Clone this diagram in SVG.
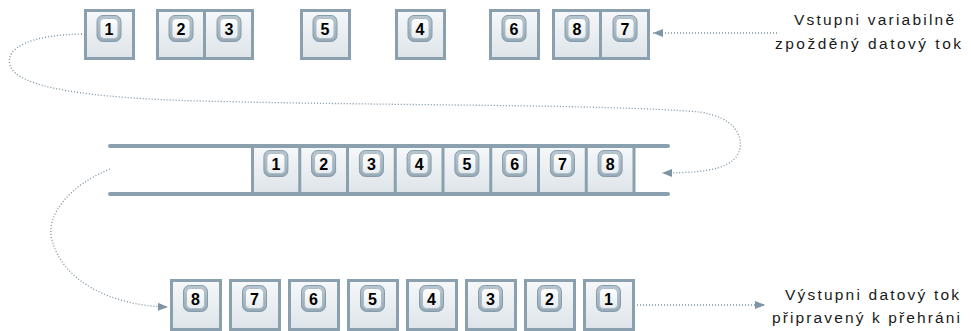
<svg xmlns="http://www.w3.org/2000/svg" xmlns:xlink="http://www.w3.org/1999/xlink" width="971" height="331" viewBox="0 0 971 331">
<style>
.box{fill:url(#boxg);stroke:#8aa0ae;stroke-width:3}
.num{font-family:"Liberation Sans",Arial,sans-serif;font-weight:bold;font-size:16px;fill:#000;text-anchor:middle}
.lbl{font-family:"Liberation Sans",Arial,sans-serif;font-size:15.5px;fill:#1a1a1a;text-anchor:middle}
.dot{fill:none;stroke:#7890a0;stroke-width:1.3;stroke-dasharray:1 2}
.bar{stroke:#8aa0ae;stroke-width:4;stroke-linecap:round}
.sep{stroke:#8aa0ae;stroke-width:3}
</style>
<defs>
<linearGradient id="boxg" x1="0" y1="0" x2="0" y2="1">
<stop offset="0" stop-color="#f6f8fa"/><stop offset="1" stop-color="#dde4e9"/>
</linearGradient>
<linearGradient id="badgeo" x1="0" y1="0" x2="0" y2="1">
<stop offset="0" stop-color="#b9c7d0"/><stop offset="1" stop-color="#95a9b6"/>
</linearGradient>
<linearGradient id="badgei" x1="0" y1="0" x2="0" y2="1">
<stop offset="0" stop-color="#ffffff"/><stop offset="1" stop-color="#e6ebef"/>
</linearGradient>
<g id="badge">
<rect x="0.5" y="0.5" width="24" height="26" rx="6" fill="url(#badgeo)" stroke="#869cab"/>
<rect x="3.5" y="3.5" width="18" height="20" rx="4" fill="url(#badgei)" stroke="#aebcc6"/>
</g>
<marker id="ah" viewBox="0 0 10 8" refX="10" refY="4" markerWidth="10" markerHeight="8" markerUnits="userSpaceOnUse" orient="auto">
<path d="M0,0 L10,4 L0,8 Z" fill="#7d95a5"/>
</marker>
</defs>

<g id="connectors">
<path class="dot" d="M82,34 C30,35 5,48 10,65 C16,88 90,98 200,101 C400,106 600,104 700,112 C735,118 742,135 740,148 C736,168 710,173 662,173" marker-end="url(#ah)"/>
<path class="dot" d="M110,169 C70,185 45,215 52,240 C62,280 110,306 168,307" marker-end="url(#ah)"/>
<path class="dot" d="M777,33 L653,33" marker-end="url(#ah)"/>
<path class="dot" d="M637,305 L765,305" marker-end="url(#ah)"/>
</g>

<g id="input-stream">
<g id="in-1"><rect class="box" x="85.5" y="10.5" width="48" height="48"/><use xlink:href="#badge" x="96.5" y="15"/><text class="num" x="109" y="34.5">1</text></g>
<g id="in-2"><rect class="box" x="157.5" y="10.5" width="47" height="48"/><use xlink:href="#badge" x="168.5" y="15"/><text class="num" x="181" y="34.5">2</text></g>
<g id="in-3"><rect class="box" x="204.5" y="10.5" width="48" height="48"/><use xlink:href="#badge" x="216.5" y="15"/><text class="num" x="229" y="34.5">3</text></g>
<g id="in-5"><rect class="box" x="301.5" y="10.5" width="48" height="48"/><use xlink:href="#badge" x="312.5" y="15"/><text class="num" x="325" y="34.5">5</text></g>
<g id="in-4"><rect class="box" x="396.5" y="10.5" width="48" height="48"/><use xlink:href="#badge" x="407.5" y="15"/><text class="num" x="420" y="34.5">4</text></g>
<g id="in-6"><rect class="box" x="490.5" y="10.5" width="48" height="48"/><use xlink:href="#badge" x="501.5" y="15"/><text class="num" x="514" y="34.5">6</text></g>
<g id="in-8"><rect class="box" x="553.5" y="10.5" width="47" height="48"/><use xlink:href="#badge" x="564.5" y="15"/><text class="num" x="577" y="34.5">8</text></g>
<g id="in-7"><rect class="box" x="600.5" y="10.5" width="48" height="48"/><use xlink:href="#badge" x="612.5" y="15"/><text class="num" x="625" y="34.5">7</text></g>
</g>

<g id="buffer">
<rect x="252" y="147" width="382" height="46" fill="url(#boxg)"/>
<line class="bar" x1="110" y1="146" x2="668" y2="146"/>
<line class="bar" x1="110" y1="194" x2="668" y2="194"/>
<line class="sep" x1="252.5" y1="146" x2="252.5" y2="194"/>
<line class="sep" x1="299.75" y1="146" x2="299.75" y2="194"/>
<line class="sep" x1="347.5" y1="146" x2="347.5" y2="194"/>
<line class="sep" x1="395.25" y1="146" x2="395.25" y2="194"/>
<line class="sep" x1="443" y1="146" x2="443" y2="194"/>
<line class="sep" x1="490.75" y1="146" x2="490.75" y2="194"/>
<line class="sep" x1="538.5" y1="146" x2="538.5" y2="194"/>
<line class="sep" x1="586.25" y1="146" x2="586.25" y2="194"/>
<line class="sep" x1="634" y1="146" x2="634" y2="194"/>
<g id="buf-1"><use xlink:href="#badge" x="263.4" y="150"/><text class="num" x="275.9" y="169.5">1</text></g>
<g id="buf-2"><use xlink:href="#badge" x="311.1" y="150"/><text class="num" x="323.6" y="169.5">2</text></g>
<g id="buf-3"><use xlink:href="#badge" x="358.9" y="150"/><text class="num" x="371.4" y="169.5">3</text></g>
<g id="buf-4"><use xlink:href="#badge" x="406.6" y="150"/><text class="num" x="419.1" y="169.5">4</text></g>
<g id="buf-5"><use xlink:href="#badge" x="454.4" y="150"/><text class="num" x="466.9" y="169.5">5</text></g>
<g id="buf-6"><use xlink:href="#badge" x="502.1" y="150"/><text class="num" x="514.6" y="169.5">6</text></g>
<g id="buf-7"><use xlink:href="#badge" x="549.9" y="150"/><text class="num" x="562.4" y="169.5">7</text></g>
<g id="buf-8"><use xlink:href="#badge" x="597.6" y="150"/><text class="num" x="610.1" y="169.5">8</text></g>
</g>

<g id="output-stream">
<g id="out-8"><rect class="box" x="171.5" y="280.5" width="49" height="49"/><use xlink:href="#badge" x="183" y="285"/><text class="num" x="195.5" y="304.5">8</text></g>
<g id="out-7"><rect class="box" x="230.5" y="280.5" width="49" height="49"/><use xlink:href="#badge" x="242" y="285"/><text class="num" x="254.5" y="304.5">7</text></g>
<g id="out-6"><rect class="box" x="289.5" y="280.5" width="49" height="49"/><use xlink:href="#badge" x="301" y="285"/><text class="num" x="313.5" y="304.5">6</text></g>
<g id="out-5"><rect class="box" x="348.5" y="280.5" width="49" height="49"/><use xlink:href="#badge" x="360" y="285"/><text class="num" x="372.5" y="304.5">5</text></g>
<g id="out-4"><rect class="box" x="407.5" y="280.5" width="49" height="49"/><use xlink:href="#badge" x="419" y="285"/><text class="num" x="431.5" y="304.5">4</text></g>
<g id="out-3"><rect class="box" x="466.5" y="280.5" width="49" height="49"/><use xlink:href="#badge" x="478" y="285"/><text class="num" x="490.5" y="304.5">3</text></g>
<g id="out-2"><rect class="box" x="525.5" y="280.5" width="49" height="49"/><use xlink:href="#badge" x="537" y="285"/><text class="num" x="549.5" y="304.5">2</text></g>
<g id="out-1"><rect class="box" x="584.5" y="280.5" width="49" height="49"/><use xlink:href="#badge" x="596" y="285"/><text class="num" x="608.5" y="304.5">1</text></g>
</g>

<g id="label-input">
<text class="lbl" x="874" y="25" textLength="160" lengthAdjust="spacing">Vstupni variabilně</text>
<text class="lbl" x="868" y="49" textLength="186" lengthAdjust="spacing">zpožděný datový tok</text>
</g>
<g id="label-output">
<text class="lbl" x="872" y="300" textLength="174" lengthAdjust="spacing">Výstupni datový tok</text>
<text class="lbl" x="866" y="323" textLength="188" lengthAdjust="spacing">připravený k přehráni</text>
</g>
</svg>
